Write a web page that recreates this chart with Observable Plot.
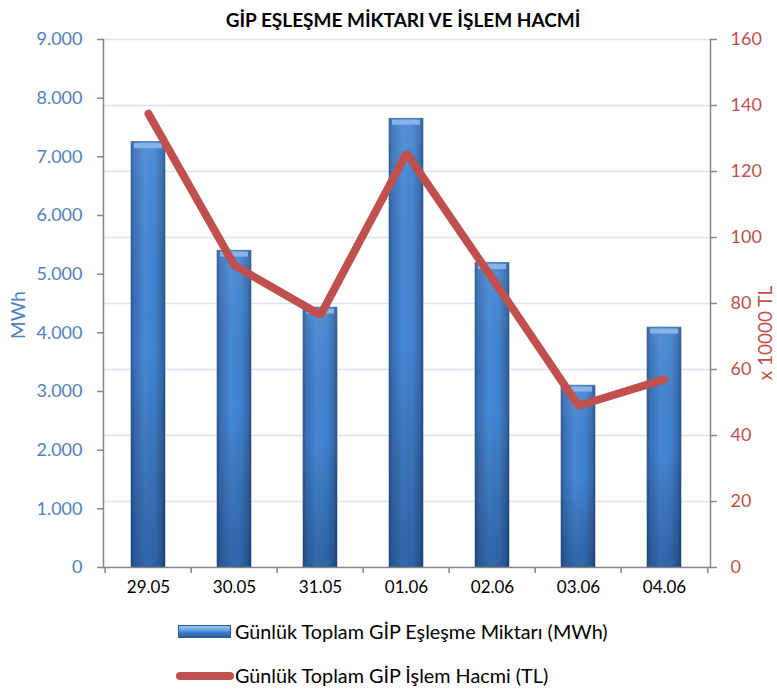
<!DOCTYPE html>
<html>
<head>
<meta charset="utf-8">
<script src="https://cdn.jsdelivr.net/npm/d3@7"></script>
<script src="https://cdn.jsdelivr.net/npm/@observablehq/plot@0.6"></script>
<style>
  html, body { margin: 0; padding: 0; background: #fff; }
  #wrap { position: relative; width: 777px; height: 690px; overflow: hidden; font-family: Lato, "Open Sans", sans-serif; }
  #chart { position: absolute; left: 0; top: 0; }
  .abs { position: absolute; white-space: nowrap; line-height: 22px; }
  #title { left: 0; width: 806px; text-align: center; top: 9px; font-weight: bold; font-size: 19px; color: #000; }
  #ylab { left: 18px; top: 315px; transform: translate(-50%, -50%) rotate(-90deg); color: #4F81BD; font-size: 19px; }
  #ylab2 { left: 765px; top: 333px; transform: translate(-50%, -50%) rotate(-90deg); color: #C0504D; font-size: 19px; }
  .legtext { font-size: 19.8px; color: #000; }
  #sw1 { left: 178px; top: 625px; width: 53px; height: 13px; box-sizing: border-box; border: 1px solid #2B5A92;
         background: linear-gradient(to bottom, #9cc6f2 0%, #6ea6e6 35%, #3f7cc6 60%, #2c5c9a 100%); }
  #sw2 { left: 176px; top: 672px; width: 58px; height: 8px; border-radius: 4px; background: #C0504D; }
  svg text.xcat { font-size: 17px; }
</style>
</head>
<body>
<div id="wrap">
  <div id="chart"></div>
  <div id="title" class="abs">GİP EŞLEŞME MİKTARI VE İŞLEM HACMİ</div>
  <div id="ylab" class="abs">MWh</div>
  <div id="ylab2" class="abs">x 10000 TL</div>
  <div id="sw1" class="abs"></div>
  <div class="abs legtext" style="left:235px; top:620px;">Günlük Toplam GİP Eşleşme Miktarı (MWh)</div>
  <div id="sw2" class="abs"></div>
  <div class="abs legtext" style="left:235px; top:664px;">Günlük Toplam GİP İşlem Hacmi (TL)</div>
</div>
<script>
// ---- data ----
const categories = ["29.05", "30.05", "31.05", "01.06", "02.06", "03.06", "04.06"];
const volumeMWh = [7250, 5400, 4430, 7650, 5190, 3100, 4090];
const valueTL10k = [137.5, 91.5, 76.5, 125.5, 87.5, 49, 57];
const leftTicks = [0, 1000, 2000, 3000, 4000, 5000, 6000, 7000, 8000, 9000];
const rightTicks = [0, 20, 40, 60, 80, 100, 120, 140, 160];
const leftMax = 9000;
const rightMax = 160;

const data = categories.map((c, i) => ({date: c, mwh: volumeMWh[i], tl: valueTL10k[i]}));
const k = leftMax / rightMax;

const W = 777, H = 610, mL = 103, mR = 67, mT = 39, mB = 43;
const step = (W - mL - mR) / categories.length;
const fmt = d3.formatLocale({decimal: ",", thousands: ".", grouping: [3]}).format(",");

const axisGray = "#868686";
const plot = Plot.plot({
  width: W, height: H,
  marginLeft: mL, marginRight: mR, marginTop: mT, marginBottom: mB,
  style: {fontFamily: "Lato, 'Open Sans', sans-serif", background: "#fff", overflow: "visible"},
  x: {type: "band", domain: categories, paddingInner: 0.6, paddingOuter: 0.3, axis: null},
  y: {domain: [0, leftMax], axis: null},
  marks: [
    Plot.ruleY(rightTicks.filter(v => v > 0).map(v => v * k), {stroke: "#DAE3F0", strokeWidth: 1.5}),
    Plot.barY(data, {x: "date", y: "mwh", fill: "url(#barH)", stroke: "#2B5A92", strokeWidth: 0.6}),
    Plot.barY(data, {x: "date", y: "mwh", fill: "url(#barV)"}),
    Plot.tickY(data, {x: "date", y: "mwh", stroke: "#8DB9EC", strokeWidth: 5, dy: 3.5, inset: 3, strokeOpacity: 0.9}),
    Plot.lineY(data, {x: "date", y: d => d.tl * k, stroke: "#C0504D", strokeWidth: 8, strokeLinecap: "round", strokeLinejoin: "miter"}),
    Plot.ruleY([0], {stroke: axisGray, strokeWidth: 1.5}),
    Plot.frame({anchor: "left", stroke: axisGray, strokeWidth: 1.5}),
    Plot.frame({anchor: "right", stroke: axisGray, strokeWidth: 1.5}),
    Plot.ruleX(categories, {x: d => d, y1: 0, y2: 0, insetBottom: -6, dx: -step / 2, stroke: axisGray, strokeWidth: 1.5}),
    Plot.ruleX(categories.slice(-1), {x: d => d, y1: 0, y2: 0, insetBottom: -6, dx: step / 2, stroke: axisGray, strokeWidth: 1.5}),
    Plot.text(categories, {x: d => d, frameAnchor: "bottom", dy: 25, text: d => d, fontSize: "17px", fill: "#000", className: "xcatmark"}),
    Plot.axisY({anchor: "left", ticks: leftTicks, tickFormat: fmt, tickSize: 6, tickPadding: 15,
      fontSize: 18, stroke: axisGray, strokeWidth: 1.5, fill: "#4F81BD", label: null}),
    Plot.axisY({anchor: "right", ticks: rightTicks.map(v => v * k), tickFormat: d => String(Math.round(d / k)),
      tickSize: 6, tickPadding: 14, fontSize: 18, stroke: axisGray, strokeWidth: 1.5, fill: "#C0504D", label: null})
  ]
});

// gradient definitions for Excel-like bars
const svg = d3.select(plot);
const defs = svg.insert("defs", ":first-child");
const gH = defs.append("linearGradient").attr("id", "barH").attr("x1", 0).attr("x2", 1).attr("y1", 0).attr("y2", 0);
[["0%", "#2C5A95"], ["10%", "#3A70B6"], ["40%", "#4688D6"], ["70%", "#4183D0"], ["92%", "#3469AC"], ["100%", "#284F85"]]
  .forEach(([o, c]) => gH.append("stop").attr("offset", o).attr("stop-color", c));
const gV = defs.append("linearGradient").attr("id", "barV").attr("x1", 0).attr("x2", 0).attr("y1", 0).attr("y2", 1);
[["0%", "#ffffff", 0.08], ["50%", "#000000", 0.0], ["100%", "#001a40", 0.3]]
  .forEach(([o, c, a]) => gV.append("stop").attr("offset", o).attr("stop-color", c).attr("stop-opacity", a));

// category labels: enforce size with an inline style
svg.selectAll("text").filter(function () { return categories.includes(this.textContent); })
  .classed("xcat", true).style("font-size", "17px");

document.getElementById("chart").appendChild(plot);
</script>
</body>
</html>
